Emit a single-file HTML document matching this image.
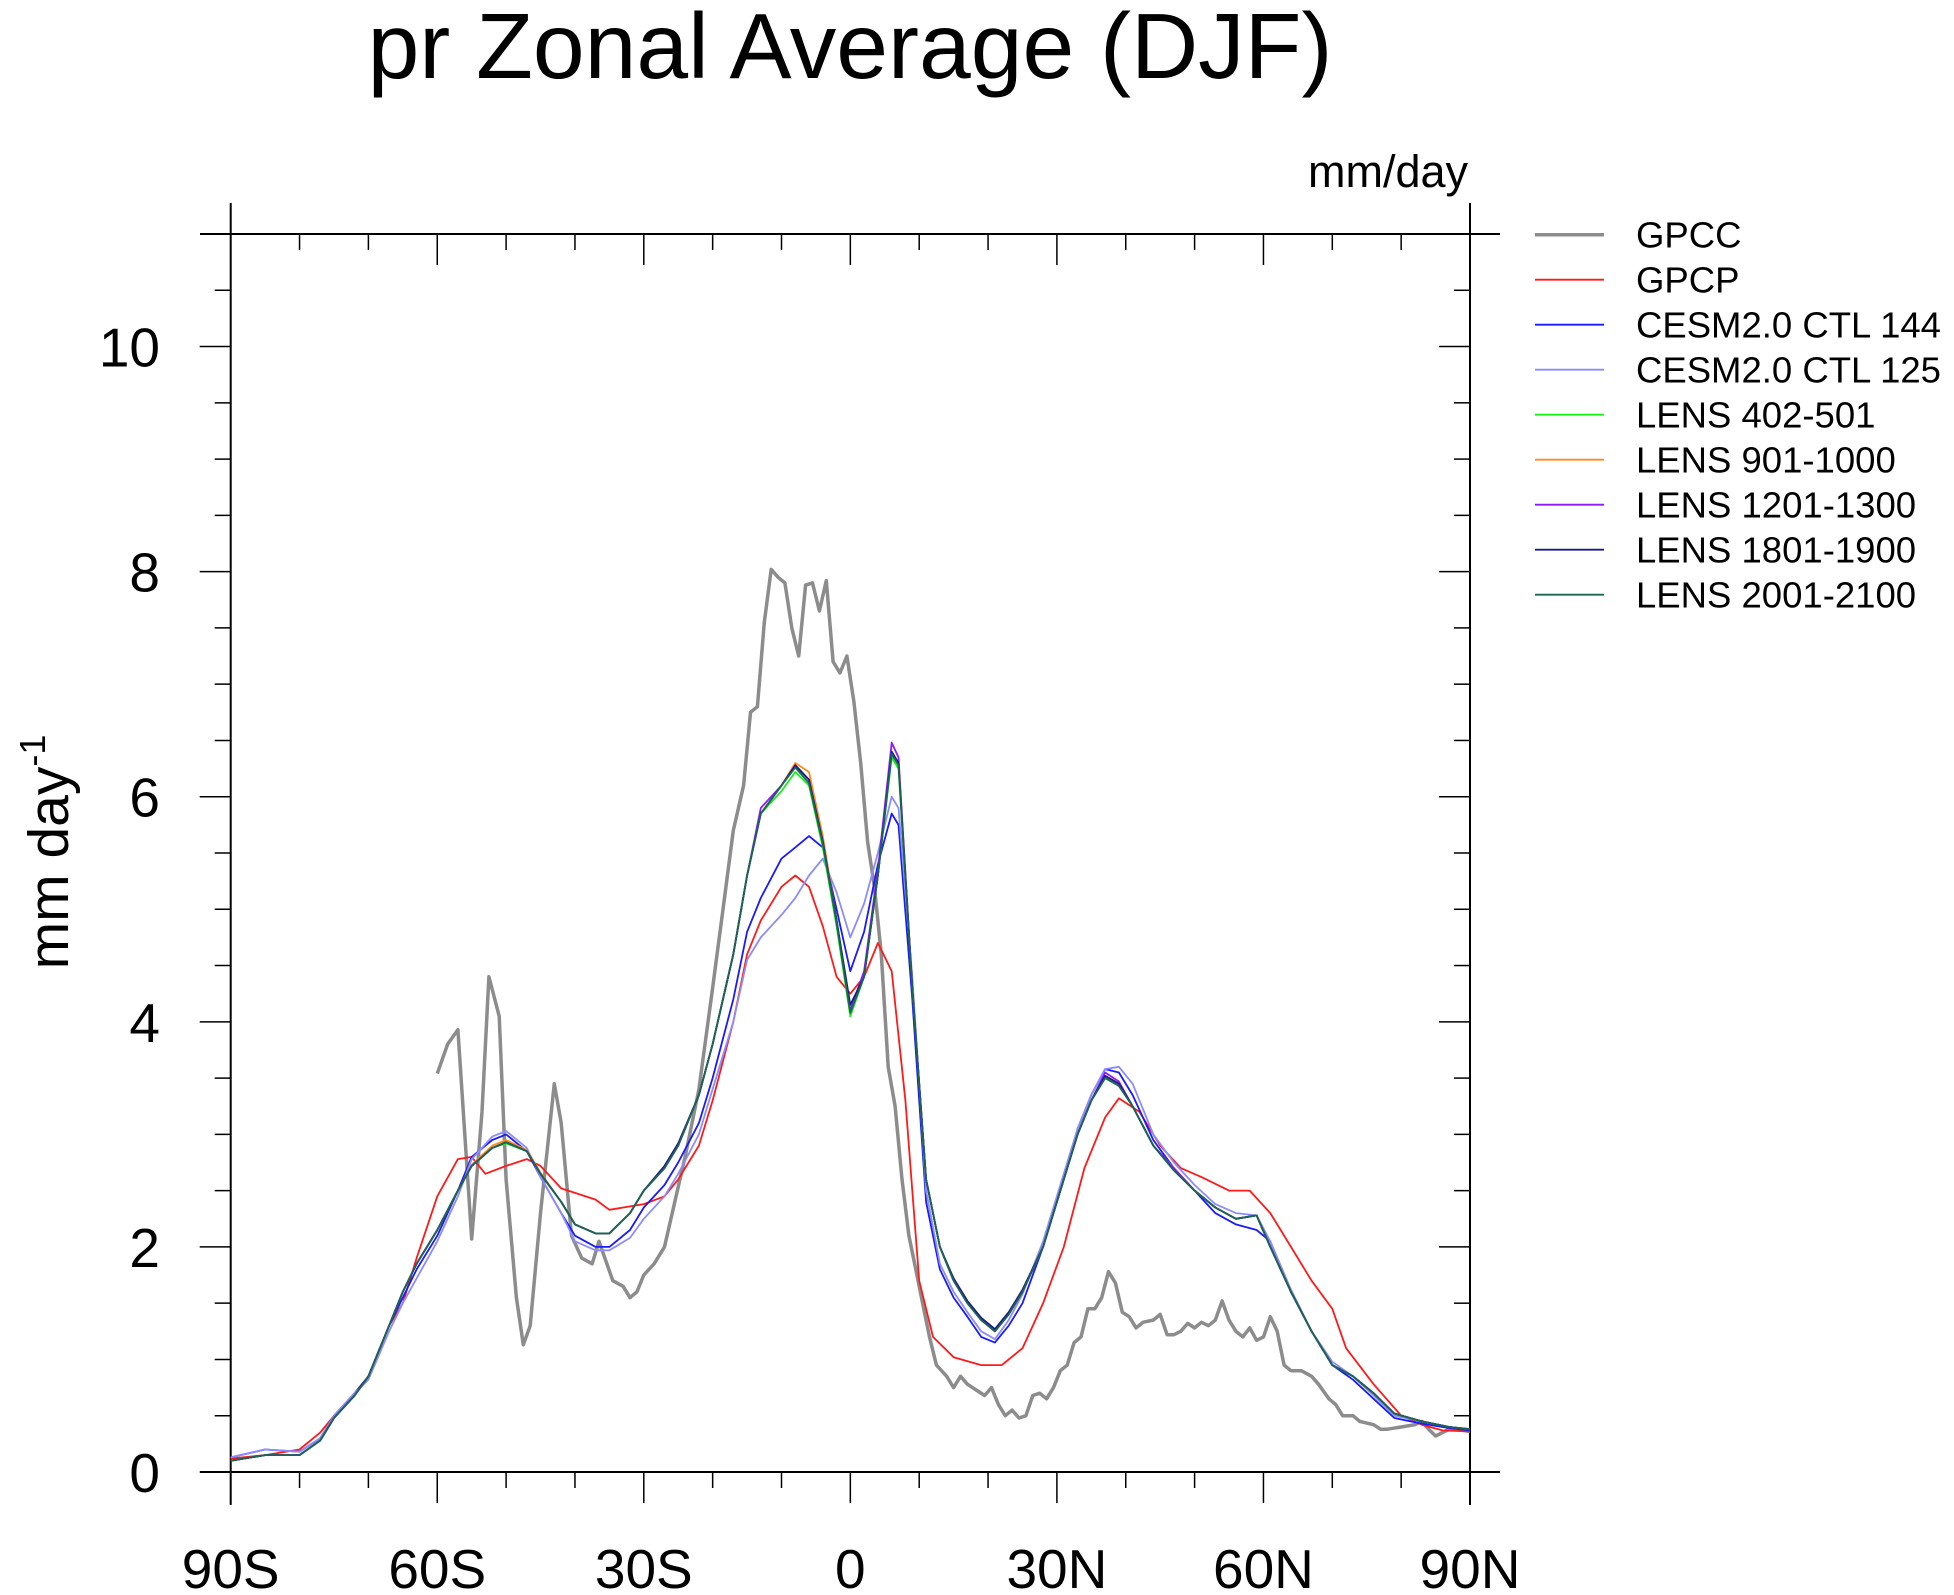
<!DOCTYPE html>
<html><head><meta charset="utf-8"><style>
html,body{margin:0;padding:0;background:#fff;}
svg{display:block;font-family:"Liberation Sans",sans-serif;}
</style></head><body>
<svg id="chart" width="1954" height="1595" viewBox="0 0 1954 1595" xmlns="http://www.w3.org/2000/svg">
<text x="850" y="78" font-size="93" text-anchor="middle">pr Zonal Average (DJF)</text>
<text x="1468" y="187" font-size="45" text-anchor="end">mm/day</text>
<text transform="translate(68,852) rotate(-90)" font-size="57" text-anchor="middle">mm day<tspan dy="-23" font-size="36">-1</tspan></text>
<g id="axes"></g>
<g id="series"></g>
<g id="legend"></g>
</svg>
<script>
const xTickLats=[-90,-60,-30,0,30,60,90];
const xTickLabels=["90S","60S","30S","0","30N","60N","90N"];
const yTicks=[0,2,4,6,8,10];
const latM=[-90,-85,-80,-77,-75,-72,-70,-67,-65,-63,-60,-57,-55,-52,-50,-47,-45,-42,-40,-37,-35,-32,-30,-27,-25,-22,-20,-17,-15,-13,-10,-8,-6,-4,-2,0,2,4,6,7,9,11,13,15,17,19,21,23,25,28,31,33,35,37,39,41,44,47,50,53,56,59,61,64,67,70,73,76,79,83,87,90];
const lens402=[0.10,0.15,0.15,0.28,0.48,0.68,0.85,1.3,1.6,1.85,2.15,2.5,2.72,2.88,2.92,2.85,2.65,2.4,2.2,2.12,2.12,2.3,2.5,2.7,2.9,3.35,3.8,4.6,5.3,5.85,6.05,6.22,6.1,5.55,4.85,4.05,4.4,5.3,6.35,6.25,4.3,2.6,2.0,1.7,1.5,1.35,1.25,1.4,1.6,2.0,2.6,3.0,3.3,3.5,3.45,3.25,2.9,2.68,2.5,2.35,2.25,2.28,2.0,1.6,1.25,0.95,0.85,0.7,0.52,0.45,0.4,0.38];
const lens901=[0.10,0.15,0.15,0.28,0.48,0.68,0.85,1.3,1.6,1.85,2.15,2.5,2.73,2.9,2.95,2.86,2.66,2.4,2.2,2.12,2.12,2.3,2.5,2.7,2.9,3.35,3.8,4.6,5.3,5.85,6.1,6.3,6.22,5.65,4.9,4.1,4.4,5.3,6.4,6.3,4.3,2.6,2.0,1.7,1.5,1.35,1.25,1.4,1.6,2.0,2.6,3.0,3.3,3.52,3.45,3.25,2.9,2.7,2.5,2.35,2.25,2.28,2.0,1.6,1.25,0.95,0.85,0.7,0.52,0.45,0.4,0.38];
const lens1201=[0.10,0.15,0.15,0.28,0.48,0.68,0.85,1.3,1.6,1.85,2.15,2.5,2.72,2.88,2.93,2.85,2.65,2.4,2.2,2.12,2.12,2.3,2.5,2.7,2.9,3.35,3.8,4.6,5.3,5.9,6.1,6.28,6.15,5.6,4.9,4.1,4.45,5.35,6.48,6.35,4.3,2.6,2.0,1.7,1.5,1.35,1.25,1.4,1.6,2.0,2.6,3.0,3.3,3.55,3.47,3.25,2.9,2.7,2.5,2.35,2.25,2.28,2.0,1.6,1.25,0.95,0.85,0.7,0.52,0.45,0.4,0.38];
const lens1801=[0.10,0.15,0.15,0.28,0.48,0.68,0.85,1.3,1.6,1.85,2.15,2.5,2.72,2.88,2.93,2.85,2.65,2.4,2.2,2.12,2.12,2.3,2.5,2.72,2.92,3.35,3.8,4.6,5.3,5.85,6.1,6.28,6.15,5.6,4.9,4.15,4.4,5.3,6.4,6.3,4.3,2.6,2.0,1.72,1.52,1.37,1.27,1.42,1.62,2.0,2.6,3.0,3.3,3.52,3.45,3.25,2.9,2.68,2.5,2.35,2.25,2.28,2.0,1.6,1.25,0.95,0.85,0.7,0.52,0.45,0.4,0.38];
const lens2001=[0.10,0.15,0.15,0.28,0.48,0.68,0.85,1.3,1.6,1.85,2.15,2.5,2.72,2.88,2.93,2.85,2.65,2.4,2.2,2.12,2.12,2.3,2.5,2.7,2.9,3.35,3.8,4.6,5.3,5.85,6.1,6.26,6.12,5.58,4.88,4.08,4.4,5.3,6.38,6.28,4.3,2.6,2.0,1.7,1.5,1.35,1.25,1.4,1.6,2.0,2.6,3.0,3.3,3.5,3.43,3.25,2.9,2.68,2.5,2.35,2.25,2.28,2.0,1.6,1.25,0.95,0.85,0.7,0.52,0.45,0.4,0.38];
const cesm144=[0.13,0.2,0.18,0.3,0.5,0.7,0.85,1.3,1.55,1.8,2.1,2.5,2.8,2.95,3.0,2.85,2.62,2.3,2.1,2.0,2.0,2.15,2.35,2.55,2.75,3.1,3.5,4.2,4.8,5.1,5.45,5.55,5.65,5.55,5.0,4.45,4.8,5.4,5.85,5.75,4.2,2.4,1.8,1.55,1.38,1.2,1.15,1.3,1.5,2.0,2.6,3.05,3.35,3.58,3.55,3.35,2.95,2.7,2.5,2.3,2.2,2.15,2.05,1.6,1.25,0.95,0.82,0.65,0.48,0.43,0.39,0.37];
const cesm125=[0.13,0.2,0.18,0.3,0.5,0.7,0.82,1.25,1.5,1.72,2.05,2.45,2.78,2.98,3.03,2.88,2.62,2.3,2.05,1.97,1.97,2.08,2.25,2.45,2.65,3.0,3.4,4.0,4.55,4.75,4.95,5.1,5.3,5.45,5.15,4.75,5.05,5.5,6.0,5.9,4.4,2.5,1.85,1.6,1.42,1.25,1.18,1.35,1.58,2.05,2.65,3.05,3.35,3.58,3.6,3.45,3.0,2.75,2.55,2.38,2.3,2.28,2.05,1.62,1.25,0.98,0.85,0.68,0.5,0.45,0.4,0.38];
const latR=[-90,-85,-80,-77,-75,-72,-70,-67,-65,-63,-60,-57,-55,-53,-50,-47,-45,-42,-40,-37,-35,-30,-27,-25,-22,-20,-17,-15,-13,-10,-8,-6,-4,-2,0,2,4,6,8,10,12,15,19,22,25,28,31,34,37,39,42,45,48,51,55,58,61,64,67,70,72,76,80,83,86,90];
const gpcp=[0.12,0.15,0.2,0.35,0.5,0.7,0.85,1.3,1.5,1.9,2.45,2.78,2.8,2.65,2.72,2.78,2.72,2.52,2.48,2.42,2.33,2.38,2.45,2.6,2.9,3.3,4.0,4.6,4.9,5.2,5.3,5.2,4.85,4.4,4.25,4.4,4.7,4.45,3.3,1.7,1.2,1.02,0.95,0.95,1.1,1.5,2.0,2.7,3.15,3.32,3.2,2.9,2.7,2.62,2.5,2.5,2.3,2.0,1.7,1.45,1.1,0.78,0.5,0.42,0.37,0.36];
const latG=[-60,-58.5,-57,-55,-53.5,-52.5,-51,-50,-48.5,-47.5,-46.5,-45,-43,-42,-40.5,-39,-37.5,-36.5,-34.5,-33,-32,-31,-30,-28.5,-27,-25.5,-24,-22,-20,-18.5,-17,-15.5,-14.5,-13.5,-12.5,-11.5,-10.5,-9.5,-8.5,-7.5,-6.5,-5.5,-4.5,-3.5,-2.5,-1.5,-0.5,0.5,1.5,2.5,3.5,4.5,5.5,6.5,7.5,8.5,9.5,10.5,11.5,12.5,14,15,16,17,18.5,19.5,20.5,21.5,22.5,23.5,24.5,25.5,26.5,27.5,28.5,29.5,30.5,31.5,32.5,33.5,34.5,35.5,36.5,37.5,38.5,39.5,40.5,41.5,42.5,44,45,46,47,48,49,50,51,52,53,54,55,56,57,58,59,60,61,62,63,64,65.5,67,68,69.5,70.5,71.5,73,74,76,77,78,80,82,83,84,85,86,87,88,90];
const gpcc=[3.54,3.8,3.93,2.07,3.2,4.4,4.05,2.6,1.55,1.13,1.3,2.3,3.45,3.1,2.1,1.9,1.85,2.05,1.7,1.65,1.55,1.6,1.75,1.85,2.0,2.4,2.8,3.4,4.3,5.0,5.7,6.1,6.75,6.8,7.55,8.02,7.95,7.9,7.5,7.25,7.88,7.9,7.65,7.92,7.2,7.1,7.25,6.85,6.3,5.6,5.2,4.6,3.6,3.25,2.6,2.1,1.8,1.5,1.2,0.95,0.85,0.75,0.85,0.78,0.72,0.68,0.75,0.6,0.5,0.55,0.48,0.5,0.68,0.7,0.65,0.75,0.9,0.95,1.15,1.2,1.45,1.45,1.55,1.78,1.68,1.42,1.38,1.28,1.33,1.35,1.4,1.22,1.22,1.25,1.32,1.28,1.33,1.3,1.35,1.52,1.35,1.25,1.2,1.28,1.17,1.2,1.38,1.25,0.95,0.9,0.9,0.85,0.78,0.65,0.6,0.5,0.5,0.45,0.42,0.38,0.38,0.4,0.42,0.45,0.38,0.32,0.35,0.38,0.38,0.36];

const L=230.7,R=1470,T=234,B=1472,YMAX=11;
const xs=lat=>L+(lat+90)*(R-L)/180;
const ys=v=>B-v*(B-T)/YMAX;
const NS="http://www.w3.org/2000/svg";
function mk(tag,attrs,parent){const e=document.createElementNS(NS,tag);for(const k in attrs)e.setAttribute(k,attrs[k]);parent.appendChild(e);return e;}
const axes=document.getElementById('axes');
let e;
e=mk('line',{x1:200,y1:B,x2:1500,y2:B,stroke:'#000','stroke-width':2},axes);


e=mk('line',{x1:200,y1:T,x2:1500,y2:T,stroke:'#000','stroke-width':2},axes);


e=mk('line',{x1:L,y1:203,x2:L,y2:1505,stroke:'#000','stroke-width':2},axes);


e=mk('line',{x1:R,y1:203,x2:R,y2:1505,stroke:'#000','stroke-width':2},axes);


for(let lat=-90;lat<=90;lat+=10){
  const major=lat%30===0, x=xs(lat), len=major?31:16;
  e=mk('line',{x1:x,y1:B,x2:x,y2:B+len,stroke:'#000','stroke-width':1.5},axes);
  
  
  e=mk('line',{x1:x,y1:T,x2:x,y2:T+len,stroke:'#000','stroke-width':1.5},axes);
  
  
}
xTickLats.forEach((lat,i)=>{
  e=mk('text',{x:xs(lat),y:1588,'font-size':55,'text-anchor':'middle'},axes);
  e.textContent=xTickLabels[i];
  
  
});
for(let v=0;v<=11.001;v+=0.5){
  const major=Math.abs(v%2)<1e-6, y=ys(v), len=major?31:16;
  e=mk('line',{x1:L-len,y1:y,x2:L,y2:y,stroke:'#000','stroke-width':1.5},axes);
  
  
  e=mk('line',{x1:R-len,y1:y,x2:R,y2:y,stroke:'#000','stroke-width':1.5},axes);
  
  
}
yTicks.forEach(v=>{
  e=mk('text',{x:160,y:ys(v)+20,'font-size':55,'text-anchor':'end'},axes);
  e.textContent=String(v);
  
  
});
const seriesG=document.getElementById('series');
const legendG=document.getElementById('legend');
const defs=[
 ['GPCC',latG,gpcc,'#8c8c8c',3.5,'gpcc'],
 ['GPCP',latR,gpcp,'#ff1a1a',1.8,'gpcp'],
 ['CESM2.0 CTL 144',latM,cesm144,'#1a1aff',1.8,'cesm-144'],
 ['CESM2.0 CTL 125',latM,cesm125,'#8c8cff',1.8,'cesm-125'],
 ['LENS 402-501',latM,lens402,'#1aee1a',1.8,'lens-402-501'],
 ['LENS 901-1000',latM,lens901,'#ff8c1a',1.8,'lens-901-1000'],
 ['LENS 1201-1300',latM,lens1201,'#8c1aff',1.8,'lens-1201-1300'],
 ['LENS 1801-1900',latM,lens1801,'#1a1a8c',1.8,'lens-1801-1900'],
 ['LENS 2001-2100',latM,lens2001,'#1a6650',1.8,'lens-2001-2100']
];
defs.forEach((d,i)=>{
  const pts=d[1].map((lat,j)=>xs(lat).toFixed(1)+','+ys(d[2][j]).toFixed(1)).join(' ');
  const p=mk('polyline',{points:pts,fill:'none',stroke:d[3],'stroke-width':d[4],'stroke-linejoin':'round'},seriesG);
  
  
  const y=234.7+i*45;
  const l=mk('line',{x1:1535,y1:y,x2:1604,y2:y,stroke:d[3],'stroke-width':d[4]},legendG);
  
  
  const t=mk('text',{x:1636,y:y+13,'font-size':36.5},legendG);
  t.textContent=d[0];
  
  
});
</script>
</body></html>
